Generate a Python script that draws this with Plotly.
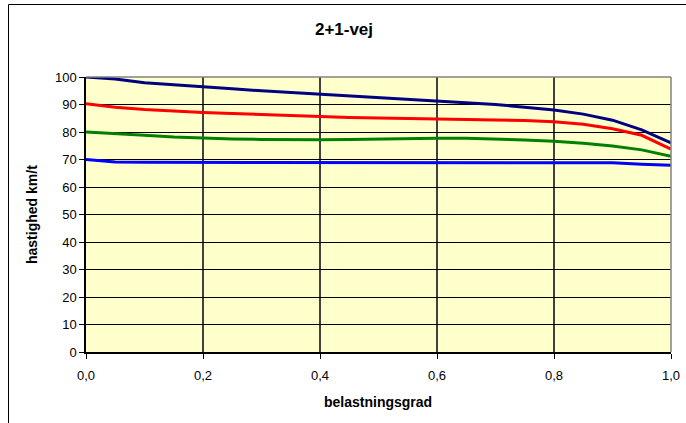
import plotly.graph_objects as go

# belastningsgrad (load degree) and speeds for four design-speed classes
belastningsgrad = [0.00, 0.05, 0.10, 0.15, 0.20, 0.25, 0.30, 0.35, 0.40, 0.45, 0.50,
                   0.55, 0.60, 0.65, 0.70, 0.75, 0.80, 0.85, 0.90, 0.95, 1.00]
v100 = [100.0, 99.3, 97.9, 97.1, 96.4, 95.7, 95.0, 94.4, 93.8, 93.2, 92.6,
        92.0, 91.4, 90.8, 90.0, 89.0, 88.0, 86.5, 84.3, 80.8, 76.0]
v90 = [90.3, 89.0, 88.2, 87.6, 87.1, 86.7, 86.3, 85.9, 85.6, 85.3, 85.1,
       84.9, 84.7, 84.6, 84.5, 84.2, 83.7, 82.8, 81.2, 78.8, 73.8]
v80 = [80.0, 79.5, 78.8, 78.2, 77.8, 77.5, 77.3, 77.2, 77.2, 77.3, 77.5,
       77.7, 77.7, 77.7, 77.5, 77.1, 76.6, 75.9, 74.9, 73.5, 71.2]
v70 = [70.0, 69.1, 69.0, 69.0, 69.0, 69.0, 69.0, 69.0, 69.0, 69.0, 69.0,
       69.0, 69.0, 69.0, 69.0, 69.0, 69.0, 68.9, 68.8, 68.3, 67.9]

series = [(v100, "#000080"), (v90, "#FF0000"), (v80, "#008000"), (v70, "#0000FF")]

W, H = 686, 423
L, R, T, B = 86, 15, 77, 71
pw, ph = W - L - R, H - T - B

fig = go.Figure()
for vals, col in series:
    fig.add_trace(go.Scatter(x=belastningsgrad, y=vals, mode="lines",
                             line=dict(color=col, width=3), showlegend=False,
                             hoverinfo="skip"))

font = "Liberation Sans, Arial, sans-serif"


def px_x(p):
    return (p - L) / pw


def px_y(p):
    return (H - B - p) / ph


fig.update_layout(
    width=W, height=H,
    margin=dict(l=L, r=R, t=T, b=B, autoexpand=False),
    paper_bgcolor="white",
    plot_bgcolor="#FFFFCC",
    separators=",.",
    font=dict(family=font, size=13, color="black"),
    title=dict(text="<b>2+1-vej</b>", x=344 / W, xanchor="center",
               y=1 - 29 / H, yanchor="middle",
               font=dict(family=font, size=17, color="black")),
    xaxis=dict(range=[0, 1], tickvals=[0, 0.2, 0.4, 0.6, 0.8, 1.0], tickformat=".1f",
               showgrid=True, gridcolor="#404040", gridwidth=1.5,
               showline=True, linecolor="black", linewidth=1.5,
               ticks="outside", ticklen=5, tickcolor="black",
               ticklabelstandoff=6,
               tickfont=dict(family=font, size=13),
               automargin=False, zeroline=False, fixedrange=True),
    yaxis=dict(range=[0, 100], dtick=10,
               showgrid=True, gridcolor="black", gridwidth=1,
               showline=True, linecolor="black", linewidth=1.5,
               ticks="outside", ticklen=5, tickcolor="black",
               tickfont=dict(family=font, size=13),
               automargin=False, zeroline=False, fixedrange=True),
    annotations=[
        dict(text="<b>belastningsgrad</b>", xref="paper", yref="paper",
             x=px_x(378), y=px_y(402), xanchor="center", yanchor="middle",
             showarrow=False, font=dict(family=font, size=14)),
        dict(text="<b>hastighed km/t</b>", xref="paper", yref="paper",
             x=px_x(32), y=px_y(215), xanchor="center", yanchor="middle",
             textangle=-90, showarrow=False, font=dict(family=font, size=14)),
    ],
    shapes=[
        # plot-area frame (top and right edges in grey)
        dict(type="line", xref="paper", yref="paper", x0=0, x1=1, y0=1, y1=1,
             line=dict(color="#808080", width=1.5), layer="above"),
        dict(type="line", xref="paper", yref="paper", x0=1, x1=1, y0=0, y1=1,
             line=dict(color="#808080", width=1.5), layer="above"),
        # outer chart frame: top and left edges
        dict(type="line", xref="paper", yref="paper",
             x0=px_x(8.5), x1=px_x(W + 20), y0=px_y(4.5), y1=px_y(4.5),
             line=dict(color="black", width=1), layer="above"),
        dict(type="line", xref="paper", yref="paper",
             x0=px_x(8.5), x1=px_x(8.5), y0=px_y(4.5), y1=px_y(H + 20),
             line=dict(color="black", width=1), layer="above"),
    ],
)

fig.write_html("out.html")
